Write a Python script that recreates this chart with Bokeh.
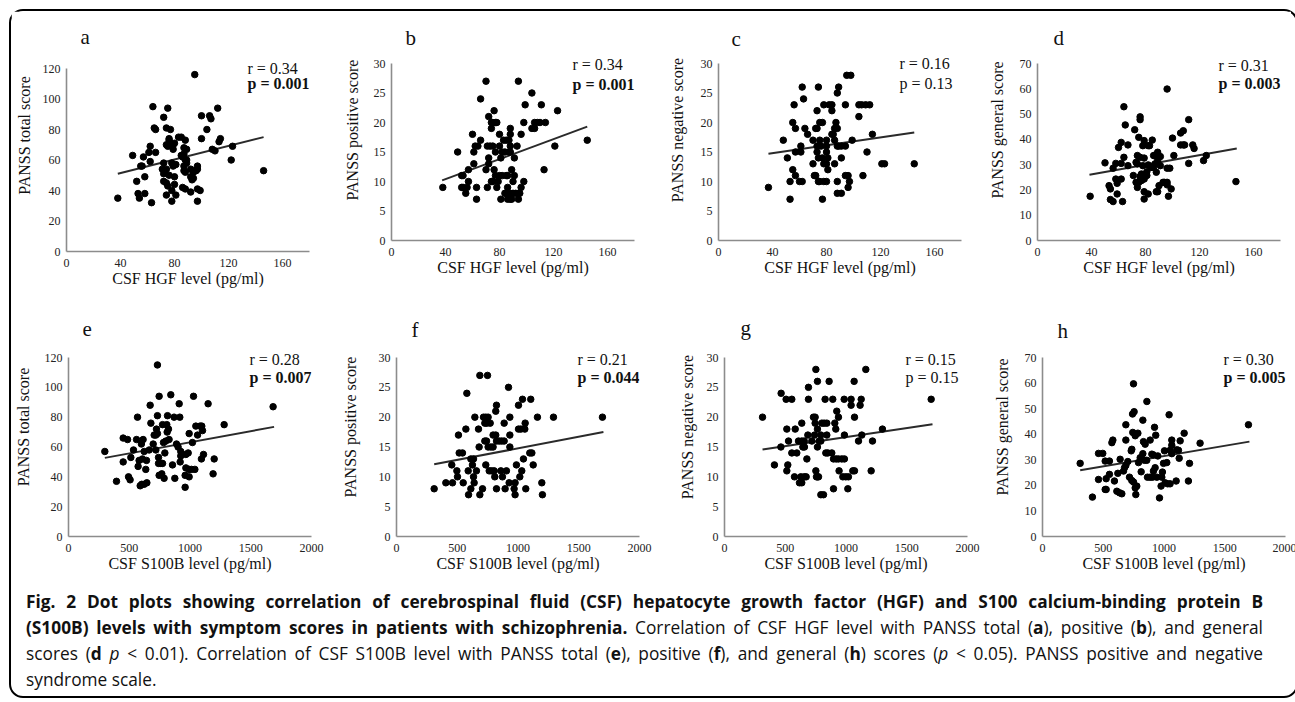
from bokeh.plotting import figure
from bokeh.models import Range1d, FixedTicker, Label, Div
from bokeh.layouts import row, column
from bokeh.embed import file_html
from bokeh.resources import INLINE

# ---------------- data ----------------
hgf_ticks = [0, 40, 80, 120, 160]
s100b_ticks = [0, 500, 1000, 1500, 2000]
total_ticks = [0, 20, 40, 60, 80, 100, 120]
pos_ticks = [0, 5, 10, 15, 20, 25, 30]
gen_ticks = [0, 10, 20, 30, 40, 50, 60, 70]

a_x = [38, 49, 52, 53, 54, 58, 63, 55, 56, 58, 57, 61, 62, 64, 65, 66, 66, 62, 72, 75, 72, 71, 72, 74, 72, 74, 75, 74, 78, 78, 81, 74, 77, 74, 75, 77, 79, 80, 76, 76, 79, 78, 79, 81, 76, 80, 80, 83, 85, 87, 88, 85, 86, 87, 89, 88, 89, 87, 89, 87, 88, 86, 88, 92, 95, 92, 94, 96, 97, 92, 94, 93, 97, 97, 97, 99, 100, 100, 104, 106, 107, 112, 108, 110, 113, 114, 122, 123, 146]
a_y = [35, 63, 46, 38, 35, 38, 32, 56, 56, 49, 62, 65, 69, 95, 81, 80, 65, 59, 88, 94, 58, 54, 51, 54, 46, 45, 43, 37, 33, 40, 37, 81, 80, 70, 69, 71, 70, 71, 74, 73, 67, 58, 56, 57, 50, 49, 44, 75, 75, 68, 73, 63, 62, 64, 67, 60, 60, 56, 58, 53, 52, 42, 41, 39, 116, 54, 52, 53, 54, 49, 48, 47, 56, 33, 41, 40, 89, 74, 80, 89, 87, 94, 67, 66, 72, 74, 60, 69, 53]

b_x = [38, 49, 52, 53, 52, 53, 56, 55, 57, 57, 60, 61, 61, 62, 64, 63, 63, 66, 66, 70, 70, 71, 71, 73, 72, 72, 72, 74, 75, 77, 78, 74, 76, 74, 75, 75, 76, 77, 78, 77, 80, 82, 79, 80, 80, 81, 81, 82, 84, 83, 85, 84, 85, 85, 86, 86, 87, 88, 87, 88, 88, 88, 86, 88, 89, 88, 90, 92, 89, 90, 91, 91, 93, 94, 95, 94, 94, 96, 96, 98, 98, 99, 104, 106, 104, 106, 108, 110, 114, 111, 113, 121, 123, 145]
b_y = [9, 15, 11, 11, 9, 9, 9, 8, 10, 12, 18, 13, 15, 16, 16, 9, 7, 17, 24, 27, 12, 9, 16, 16, 21, 14, 13, 20, 20, 20, 20, 19, 22, 10, 10, 16, 12, 15, 9, 11, 11, 11, 10, 18, 16, 14, 7, 15, 15, 17, 17, 8, 8, 11, 11, 9, 15, 15, 17, 19, 18, 16, 7, 7, 7, 8, 8, 8, 12, 10, 14, 11, 16, 8, 8, 27, 7, 9, 18, 10, 20, 23, 19, 19, 25, 20, 20, 20, 20, 23, 12, 16, 22, 17]

c_x = [37, 48, 51, 53, 53, 55, 55, 56, 57, 57, 57, 60, 62, 61, 61, 62, 63, 64, 66, 70, 70, 71, 72, 72, 73, 73, 73, 73, 74, 74, 74, 75, 78, 80, 75, 77, 75, 76, 77, 77, 78, 78, 80, 80, 80, 80, 81, 81, 82, 84, 84, 84, 85, 86, 86, 86, 87, 88, 88, 89, 91, 89, 88, 88, 88, 91, 91, 94, 94, 94, 96, 95, 98, 96, 97, 99, 104, 104, 106, 109, 112, 107, 110, 114, 121, 123, 145]
c_y = [9, 17, 14, 7, 10, 12, 20, 23, 19, 11, 15, 10, 10, 15, 16, 26, 24, 19, 18, 17, 13, 11, 11, 19, 19, 22, 16, 15, 26, 14, 10, 10, 10, 10, 20, 20, 17, 16, 14, 7, 23, 13, 13, 16, 17, 15, 14, 12, 23, 23, 22, 18, 18, 19, 17, 13, 20, 19, 16, 16, 16, 26, 25, 10, 8, 8, 14, 23, 16, 11, 11, 28, 28, 9, 10, 17, 21, 23, 23, 23, 23, 11, 15, 18, 13, 13, 13]

d_x = [39, 50, 53, 54, 54, 56, 56, 58, 59, 58, 62, 59, 60, 62, 62, 63, 64, 64, 65, 67, 67, 71, 72, 73, 74, 73, 75, 74, 74, 76, 75, 76, 76, 76, 77, 77, 78, 79, 78, 79, 79, 81, 79, 79, 81, 82, 83, 82, 82, 84, 85, 86, 87, 86, 87, 89, 88, 89, 88, 89, 91, 90, 91, 93, 94, 96, 96, 96, 96, 98, 97, 99, 100, 101, 106, 108, 106, 108, 109, 112, 112, 115, 116, 123, 125, 147]
d_y = [17.5, 30.7, 21.7, 20.4, 16.2, 15.4, 28.6, 24.3, 22.6, 30.5, 30.5, 18.4, 36.8, 38.8, 24.3, 15.4, 52.9, 32.9, 45.7, 37.8, 29.6, 25.7, 43.8, 30.9, 30.3, 23, 23, 21, 33.6, 32.9, 40.8, 48.9, 47.8, 25.3, 26.3, 23.7, 37.5, 39.5, 29.6, 32.6, 24.3, 25.7, 16.4, 19.3, 27.2, 37.5, 37.5, 18.4, 29.9, 28.9, 39.7, 33.6, 33.6, 28.9, 30.3, 31.6, 19.3, 19.3, 27, 34.9, 33.2, 21.7, 29.6, 23, 23, 23, 22, 59.9, 28.6, 28.6, 17.5, 20.4, 40.5, 33.6, 37.8, 37.8, 42.5, 43.4, 37.8, 30.5, 47.8, 37.8, 36.4, 31.6, 33.6, 23.3]

e_x = [299, 395, 450, 450, 486, 494, 507, 513, 535, 560, 568, 573, 581, 590, 600, 603, 623, 645, 609, 614, 623, 636, 642, 664, 672, 678, 697, 705, 719, 732, 719, 724, 732, 732, 741, 746, 741, 760, 774, 746, 768, 787, 774, 809, 793, 782, 801, 828, 812, 815, 823, 842, 856, 869, 875, 889, 902, 911, 916, 924, 924, 919, 960, 966, 993, 1012, 1040, 966, 985, 960, 993, 993, 1020, 1029, 1048, 1062, 1083, 1103, 1097, 1094, 1111, 1149, 1190, 1199, 1281, 1684]
e_y = [57, 37, 66, 50, 65, 40, 38, 53, 58, 65, 80, 47, 51, 34, 62, 35, 35, 36, 52, 65, 57, 45, 51, 58, 88, 76, 62, 68, 68, 69, 58, 72, 115, 81, 53, 94, 49, 49, 49, 41, 42, 39, 75, 75, 56, 63, 64, 65, 70, 81, 72, 95, 48, 80, 39, 62, 60, 89, 80, 57, 54, 50, 33, 46, 45, 45, 45, 55, 56, 41, 40, 69, 63, 94, 74, 68, 74, 71, 74, 52, 55, 89, 42, 52, 75, 87]

f_x = [310, 406, 461, 455, 497, 502, 510, 516, 543, 549, 571, 579, 590, 593, 612, 612, 634, 625, 634, 639, 645, 658, 675, 680, 686, 686, 708, 716, 735, 754, 727, 743, 771, 727, 741, 735, 749, 754, 776, 795, 763, 782, 804, 795, 817, 809, 817, 823, 823, 823, 845, 865, 886, 859, 905, 872, 886, 894, 922, 927, 933, 933, 933, 968, 976, 976, 987, 1004, 1023, 1004, 1015, 1037, 1031, 1045, 1056, 1059, 1064, 1097, 1114, 1105, 1125, 1160, 1196, 1201, 1292, 1695]
f_y = [8, 9, 9, 12, 11, 10, 17, 14, 14, 9, 18, 24, 11, 7, 8, 13, 13, 12, 10, 9, 20, 11, 18, 15, 27, 7, 8, 20, 20, 20, 19, 19, 19, 16, 16, 12, 27, 15, 15, 15, 11, 11, 11, 17, 17, 10, 21, 22, 8, 16, 16, 16, 16, 11, 11, 10, 19, 8, 25, 9, 17, 20, 15, 8, 7, 9, 12, 18, 18, 22, 10, 23, 11, 13, 18, 19, 8, 14, 14, 23, 12, 20, 9, 7, 20, 20]

g_x = [313, 411, 464, 466, 507, 554, 513, 513, 521, 527, 554, 595, 576, 582, 609, 636, 656, 617, 636, 628, 656, 672, 636, 645, 658, 678, 686, 691, 691, 719, 732, 746, 741, 746, 752, 752, 757, 765, 774, 765, 765, 765, 793, 793, 779, 801, 820, 842, 815, 793, 828, 834, 850, 842, 861, 883, 891, 897, 897, 919, 938, 965, 987, 908, 916, 924, 938, 943, 974, 998, 1020, 987, 985, 1015, 1042, 1042, 1056, 1070, 1067, 1070, 1103, 1116, 1130, 1125, 1163, 1207, 1218, 1300, 1701]
g_y = [20, 12, 15, 24, 23, 23, 18, 11, 12, 16, 14, 14, 10, 18, 16, 16, 16, 9, 9, 10, 10, 10, 19, 15, 15, 13, 17, 25, 23, 16, 20, 20, 17, 19, 28, 11, 10, 10, 10, 26, 15, 18, 17, 16, 16, 19, 19, 19, 7, 7, 23, 14, 14, 17, 26, 14, 23, 8, 13, 13, 13, 13, 13, 19, 18, 21, 20, 11, 10, 10, 10, 17, 23, 8, 23, 22, 11, 11, 26, 20, 16, 22, 17, 23, 28, 11, 16, 18, 23]

h_x = [310, 411, 461, 496, 461, 516, 551, 516, 524, 524, 551, 571, 579, 592, 612, 634, 620, 639, 653, 667, 675, 686, 686, 686, 702, 716, 730, 735, 735, 749, 741, 754, 743, 763, 749, 763, 776, 768, 785, 790, 804, 812, 826, 826, 831, 845, 839, 858, 859, 864, 886, 905, 886, 900, 913, 913, 922, 927, 932, 941, 949, 963, 976, 982, 987, 996, 1004, 1009, 1030, 1050, 1023, 1042, 1050, 1064, 1064, 1064, 1100, 1105, 1125, 1119, 1133, 1166, 1201, 1210, 1297, 1695]
h_y = [28.6, 15.4, 32.5, 32.5, 22.3, 29.5, 29.5, 18.4, 18.4, 22.6, 24.3, 36.7, 37.7, 21.7, 17.7, 17.1, 24.7, 30.2, 16.7, 25.6, 26.9, 27.8, 43.7, 37.7, 29.3, 23.2, 33.5, 34.1, 21.9, 21.3, 47.9, 48.8, 40.7, 39.4, 59.7, 19, 19.7, 16.4, 40.4, 28.9, 30.8, 25.3, 45.5, 32.4, 37.1, 36.1, 29.8, 29.8, 52.8, 23.2, 23.2, 23.2, 37.7, 32.2, 31.9, 25.6, 42.7, 26.9, 39.6, 23.2, 31.5, 15.1, 19.7, 23.2, 25.2, 28.6, 33.5, 21, 20.6, 20.6, 28.9, 47.6, 33.7, 35.7, 37.7, 32.4, 21.7, 33.9, 30.6, 33.7, 37.4, 40.4, 21.7, 28.6, 36.5, 43.7]

# fitted trend lines (end points)
fit_x = {"a": [38, 146], "b": [37.5, 145], "c": [37, 145], "d": [38.5, 147.6],
         "e": [299, 1692], "f": [310, 1703], "g": [313, 1712], "h": [310, 1703]}
fit_y = {"a": [51, 75], "b": [10.2, 19.3], "c": [14.7, 18.3], "d": [26, 36.4],
         "e": [52.7, 73.5], "f": [12.1, 17.5], "g": [14.6, 18.8], "h": [25.9, 37.1]}

r_text = {"a": "r = 0.34", "b": "r = 0.34", "c": "r = 0.16", "d": "r = 0.31",
          "e": "r = 0.28", "f": "r = 0.21", "g": "r = 0.15", "h": "r = 0.30"}
p_text = {"a": "p = 0.001", "b": "p = 0.001", "c": "p = 0.13", "d": "p = 0.003",
          "e": "p = 0.007", "f": "p = 0.044", "g": "p = 0.15", "h": "p = 0.005"}
p_bold = {"a": True, "b": True, "c": False, "d": True,
          "e": True, "f": True, "g": False, "h": True}

y_titles = {"total": "PANSS total score", "pos": "PANSS positive score",
            "neg": "PANSS negative score", "gen": "PANSS general score"}
x_titles = {"hgf": "CSF HGF level (pg/ml)", "s100b": "CSF S100B level (pg/ml)"}

SERIF = "Liberation Serif"


def panel(key, xs, ys, xkind, ykind, axis_h, extra, L, R, T, B, ystand,
          letter_dx, letter_dy, r_dy, p_dy):
    xmax = 180 if xkind == "hgf" else 2000
    xt = hgf_ticks if xkind == "hgf" else s100b_ticks
    if ykind == "total":
        ymax, yt = 120, total_ticks
    elif ykind == "gen":
        ymax, yt = 70, gen_ticks
    else:
        ymax, yt = 30, pos_ticks
    ppu = axis_h / ymax
    p = figure(frame_width=243, frame_height=axis_h + extra,
               min_border_left=L, min_border_right=R,
               min_border_top=T, min_border_bottom=B,
               x_range=Range1d(0, xmax), y_range=Range1d(0, ymax + extra / ppu),
               output_backend="svg", toolbar_location=None)
    p.outline_line_color = None
    p.xgrid.visible = False
    p.ygrid.visible = False
    p.background_fill_color = "white"
    p.border_fill_color = "white"
    p.xaxis.ticker = FixedTicker(ticks=xt)
    p.yaxis.ticker = FixedTicker(ticks=yt)
    p.yaxis.bounds = (0, ymax)
    for ax in (p.xaxis[0], p.yaxis[0]):
        ax.axis_line_color = "#8c8c8c"
        ax.axis_line_width = 1.6
        ax.major_tick_line_color = None
        ax.minor_tick_line_color = None
        ax.major_tick_out = 0
        ax.major_tick_in = 0
        ax.minor_tick_out = 0
        ax.minor_tick_in = 0
        ax.major_label_text_font = SERIF
        ax.major_label_text_font_size = "12px"
        ax.major_label_text_color = "#222222"
        ax.axis_label_text_font = SERIF
        ax.axis_label_text_font_size = "16px"
        ax.axis_label_text_font_style = "normal"
        ax.axis_label_text_color = "#111111"
    p.xaxis.major_label_standoff = 7
    p.xaxis.axis_label = x_titles[xkind]
    p.xaxis.axis_label_standoff = 0
    p.yaxis.major_label_standoff = 6
    p.yaxis.axis_label = y_titles[ykind]
    p.yaxis.axis_label_standoff = ystand

    p.line(fit_x[key], fit_y[key], line_color="#2a2a2a", line_width=2)
    p.scatter(xs, ys, size=6.5, color="black", marker="circle")

    # panel letter
    p.add_layout(Label(x=letter_dx / 243 * xmax, y=ymax + letter_dy / ppu, text=key,
                       text_font=SERIF, text_font_size="21px", text_baseline="alphabetic",
                       text_color="#111111"))
    xl = 181 / 243 * xmax
    p.add_layout(Label(x=xl, y=ymax - r_dy / ppu, text=r_text[key], text_font=SERIF,
                       text_font_size="16px", text_baseline="middle", text_color="#111111"))
    p.add_layout(Label(x=xl, y=ymax - p_dy / ppu, text=p_text[key], text_font=SERIF,
                       text_font_size="16px", text_baseline="middle", text_color="#111111",
                       text_font_style="bold" if p_bold[key] else "normal"))
    return p


# top row: every frame starts 8px below the content top; the axis top differs
pa = panel("a", a_x, a_y, "hgf", "total", 183, 49, 55, 27, 8, 45, 7, 14, 32, 0, 15)
pb = panel("b", b_x, b_y, "hgf", "pos", 177, 44, 55, 27, 8, 56, 10, 14, 26, 1, 21)
pc = panel("c", c_x, c_y, "hgf", "neg", 177, 44, 57, 15, 8, 56, 12, 13, 25, 0, 20)
pd = panel("d", d_x, d_y, "hgf", "gen", 177, 44, 61, 11, 8, 56, 11, 16, 26, 2, 20)

pe = panel("e", e_x, e_y, "s100b", "total", 179, 40, 55, 27, 21, 52, 10, 14, 29, 2, 20)
pf = panel("f", f_x, f_y, "s100b", "pos", 179, 40, 55, 27, 21, 52, 17, 15, 28, 2, 20)
pg = panel("g", g_x, g_y, "s100b", "neg", 179, 40, 58, 14, 21, 52, 8, 16, 30, 2, 20)
ph = panel("h", h_x, h_y, "s100b", "gen", 179, 40, 61, 11, 21, 52, 11, 15, 27, 2, 20)

J = ("display:block;width:1237px;white-space:nowrap;"
     "text-align:justify;text-align-last:justify;")
caption_html = (
    '<div style="font-family:\'Open Sans\';font-size:17.3px;line-height:26px;color:#111;'
    'margin-top:1px;width:1237px;">'
    '<div style="' + J + '"><b>Fig. 2 Dot plots showing correlation of cerebrospinal fluid (CSF) '
    'hepatocyte growth factor (HGF) and S100 calcium-binding protein B</b></div>'
    '<div style="' + J + '"><b>(S100B) levels with symptom scores in patients with schizophrenia.</b> '
    'Correlation of CSF HGF level with PANSS total (<b>a</b>), positive (<b>b</b>), and general</div>'
    '<div style="' + J + '">scores (<b>d</b> <i>p</i>&nbsp;&lt;&nbsp;0.01). Correlation of CSF S100B level '
    'with PANSS total (<b>e</b>), positive (<b>f</b>), and general (<b>h</b>) scores '
    '(<i>p</i>&nbsp;&lt;&nbsp;0.05). PANSS positive and negative</div>'
    '<div style="display:block;width:1237px;">syndrome scale.</div>'
    '</div>'
)
caption = Div(text=caption_html, width=1237, height=108, margin=(0, 28, 0, 15))

layout = column(row(pa, pb, pc, pd), row(pe, pf, pg, ph), caption,
                styles={"border": "2px solid #000", "border-radius": "14px",
                        "margin-left": "9px", "margin-top": "9px",
                        "background-color": "white"})

open("out.html", "w").write(file_html(layout, INLINE))
